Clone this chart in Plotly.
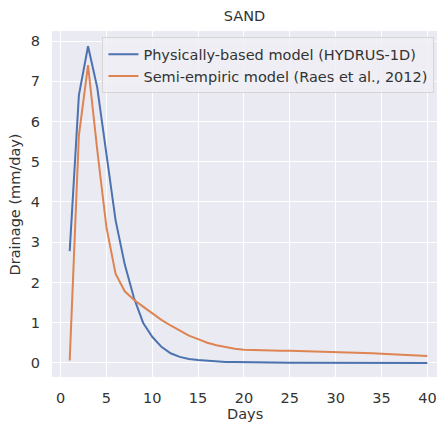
import plotly.graph_objects as go

days = list(range(1, 41))
hydrus = [2.78, 6.65, 7.87, 6.85, 5.2, 3.55, 2.45, 1.62, 1.0, 0.65,
          0.4, 0.24, 0.15, 0.1, 0.07, 0.05, 0.035, 0.025, 0.02, 0.015,
          0.012, 0.01, 0.009, 0.008, 0.007, 0.006, 0.005, 0.005, 0.004, 0.004,
          0.003, 0.003, 0.003, 0.002, 0.002, 0.002, 0.002, 0.001, 0.001, 0.001]
raes = [0.06, 5.65, 7.4, 5.3, 3.38, 2.22, 1.78, 1.57, 1.4, 1.23,
        1.07, 0.93, 0.8, 0.68, 0.59, 0.5, 0.44, 0.39, 0.35, 0.33,
        0.32, 0.315, 0.31, 0.305, 0.3, 0.295, 0.29, 0.285, 0.278, 0.27,
        0.262, 0.255, 0.247, 0.238, 0.228, 0.218, 0.207, 0.196, 0.185, 0.172]

names = ["Physically-based model (HYDRUS-1D)", "Semi-empiric model (Raes et al., 2012)"]
colors = ["#4C72B0", "#DD8452"]
title = "SAND"
xlabel = "Days"
ylabel = "Drainage (mm/day)"
xticks = [0, 5, 10, 15, 20, 25, 30, 35, 40]
yticks = [0, 1, 2, 3, 4, 5, 6, 7, 8]

FONT = "DejaVu Sans"
TXT = "#333333"
FS = 14.5

fig = go.Figure()
for y, n, c in zip([hydrus, raes], names, colors):
    fig.add_trace(go.Scatter(x=days, y=y, mode="lines", name=n,
                             line=dict(color=c, width=2)))

fig.update_layout(
    width=438, height=424,
    margin=dict(l=52, r=1, t=31, b=47),
    paper_bgcolor="white",
    plot_bgcolor="#EAEAF2",
    font=dict(family=FONT, size=FS, color=TXT),
    title=dict(text=title, x=0.5, xref="paper", xanchor="center",
               y=1 - 16 / 424, yref="container", yanchor="middle",
               font=dict(family=FONT, size=FS, color=TXT)),
    showlegend=True,
    legend=dict(x=0.131, y=0.982, xanchor="left", yanchor="top",
                bgcolor="rgba(238,238,245,0.85)", bordercolor="#D5D5D5", borderwidth=1,
                font=dict(family=FONT, size=FS, color=TXT),
                tracegroupgap=0, itemwidth=30),
    xaxis=dict(range=[-0.93, 41.05], tickvals=xticks, showgrid=True,
               gridcolor="white", gridwidth=1.3, zeroline=False, showline=False,
               ticks="outside", ticklen=8, tickcolor="rgba(0,0,0,0)",
               tickfont=dict(family=FONT, size=FS, color=TXT)),
    yaxis=dict(range=[-0.35, 8.25], tickvals=yticks, showgrid=True,
               gridcolor="white", gridwidth=1.3, zeroline=False, showline=False,
               ticks="outside", ticklen=8, tickcolor="rgba(0,0,0,0)",
               tickfont=dict(family=FONT, size=FS, color=TXT)),
    annotations=[
        dict(text=xlabel, xref="paper", yref="paper", x=0.5, y=-(414 - 376.7) / 346,
             xanchor="center", yanchor="middle", showarrow=False,
             font=dict(family=FONT, size=FS, color=TXT)),
        dict(text=ylabel, xref="paper", yref="paper", x=-(52.5 - 16) / 384.5, y=0.5,
             xanchor="center", yanchor="middle", showarrow=False, textangle=-90,
             font=dict(family=FONT, size=FS, color=TXT)),
    ],
)

fig.write_html("out.html")
